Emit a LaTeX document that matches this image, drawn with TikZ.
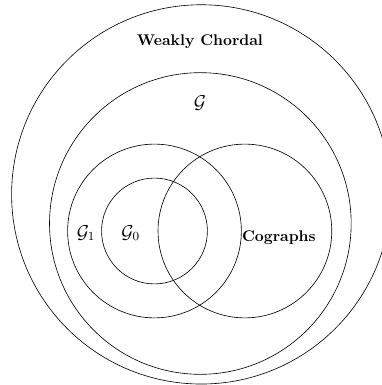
\documentclass[tikz,border=0pt]{standalone}
\usepackage{amsmath,amssymb}

\begin{document}
\begin{tikzpicture}[classname/.style={font=\bfseries},setname/.style={font=\large}]
    \useasboundingbox (-3.503,-3.492) rectangle (5.136,5.238);
    \draw (1.06,0.83) circle (4.30);
    \draw (1.04,0.17) circle (3.42);
    \draw (0,0) circle (1.97);
    \draw (0,0) circle (1.20);
    \draw (2.05,0) circle (1.97);
    \node[classname] (weak) at (1.03,4.29) {Weakly Chordal};
    \node[setname] (gen) at (1.03,2.90) {$\mathcal{G}$};
    \node[setname] (gone) at (-1.55,-0.05) {$\mathcal{G}_1$};
    \node[setname] (gzero) at (-0.54,-0.05) {$\mathcal{G}_0$};
    \node[classname] (cog) at (2.82,-0.16) {Cographs};
  \end{tikzpicture}
\end{document}
